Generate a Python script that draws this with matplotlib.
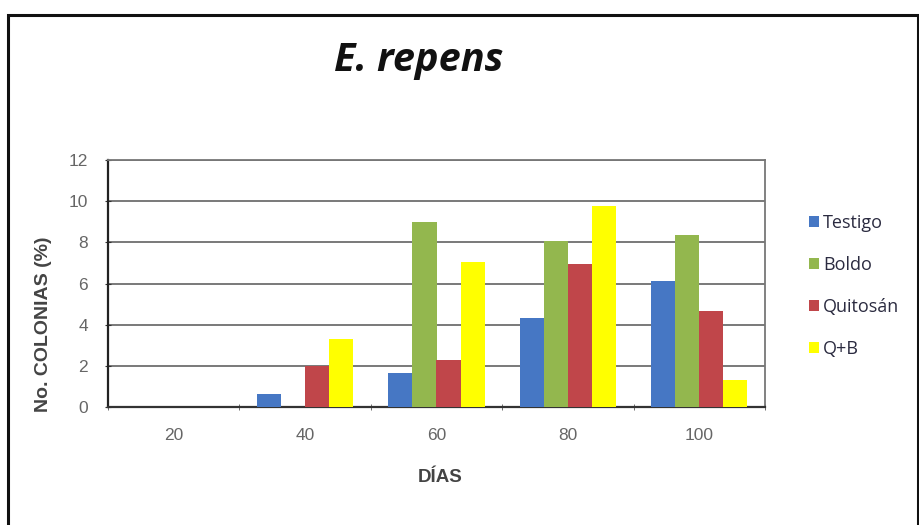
import numpy as np
import matplotlib
matplotlib.use("Agg")
import matplotlib.pyplot as plt
from matplotlib.patches import Rectangle

# colony counts (%) per day and treatment
dias = ["20", "40", "60", "80", "100"]
testigo = [0.0, 0.65, 1.65, 4.3, 6.1]
boldo = [0.0, 0.0, 9.0, 8.05, 8.35]
quitosan = [0.0, 2.0, 2.3, 6.95, 4.65]
qb = [0.0, 3.3, 7.05, 9.75, 1.3]

series = [("Testigo", testigo, "#4677c4"),
          ("Boldo", boldo, "#93b74e"),
          ("Quitosán", quitosan, "#c0464a"),
          ("Q+B", qb, "#ffff00")]

fig = plt.figure(figsize=(9.2, 5.25), dpi=100)
fig.patch.set_facecolor("white")

# outer frame of the chart
fig.add_artist(Rectangle((8 / 920, -0.05), 910 / 920, 1.05 - 15 / 525,
                         transform=fig.transFigure, fill=False,
                         edgecolor="#111111", linewidth=2.2, clip_on=False))

ax = fig.add_axes([108 / 920, 1 - 407 / 525, 657 / 920, 247 / 525])

x = np.arange(len(dias))
w = 0.183
for i, (name, vals, col) in enumerate(series):
    ax.bar(x + (i - 1.5) * w, vals, width=w, color=col, label=name, zorder=3)

ax.set_xlim(-0.5, len(dias) - 0.5)
ax.set_ylim(0, 12)
ax.set_yticks(range(0, 13, 2))
ax.yaxis.grid(True, color="#6e6e6e", linewidth=1.3, zorder=0)
ax.set_axisbelow(True)

ax.set_xticks(x)
ax.set_xticklabels(dias)
ax.set_xticks(np.arange(-0.5, len(dias), 1), minor=True)
ax.tick_params(axis="x", which="major", length=0, pad=15,
               labelsize=12.5, labelcolor="#666666")
ax.tick_params(axis="x", which="minor", length=5, direction="inout",
               color="#555555")
ax.tick_params(axis="y", length=5, direction="inout", color="#333333",
               pad=12, labelsize=12.5, labelcolor="#666666")
for lab in ax.get_xticklabels() + ax.get_yticklabels():
    lab.set_family("Liberation Sans")

ax.spines["left"].set_color("#222222")
ax.spines["left"].set_linewidth(1.6)
ax.spines["bottom"].set_color("#333333")
ax.spines["bottom"].set_linewidth(1.6)
ax.spines["top"].set_color("#777777")
ax.spines["right"].set_color("#777777")
ax.spines["top"].set_linewidth(1.3)
ax.spines["right"].set_linewidth(1.3)

fig.text(44 / 920, 1 - 324 / 525, "No. COLONIAS (%)", rotation=90,
         ha="center", va="center", fontsize=14, fontweight="bold",
         color="#444444", family="Liberation Sans")
fig.text(440 / 920, 1 - 477 / 525, "DÍAS", ha="center", va="center",
         fontsize=13.5, fontweight="bold", color="#444444",
         family="Liberation Sans")
fig.text(419 / 920, 1 - 60 / 525, "E. repens", ha="center", va="center",
         fontsize=28.5, fontweight="bold", style="italic", color="#111111",
         family="Open Sans")

leg = ax.legend(loc="upper left", bbox_to_anchor=(802 / 920, 1 - 207 / 525),
                bbox_transform=fig.transFigure, frameon=False,
                handlelength=0.55, handleheight=0.55, handletextpad=0.2,
                labelspacing=1.33, borderaxespad=0,
                prop={"family": "Open Sans", "size": 13})
for t in leg.get_texts():
    t.set_color("#2b2b40")

fig.savefig("out.png", dpi=100)
